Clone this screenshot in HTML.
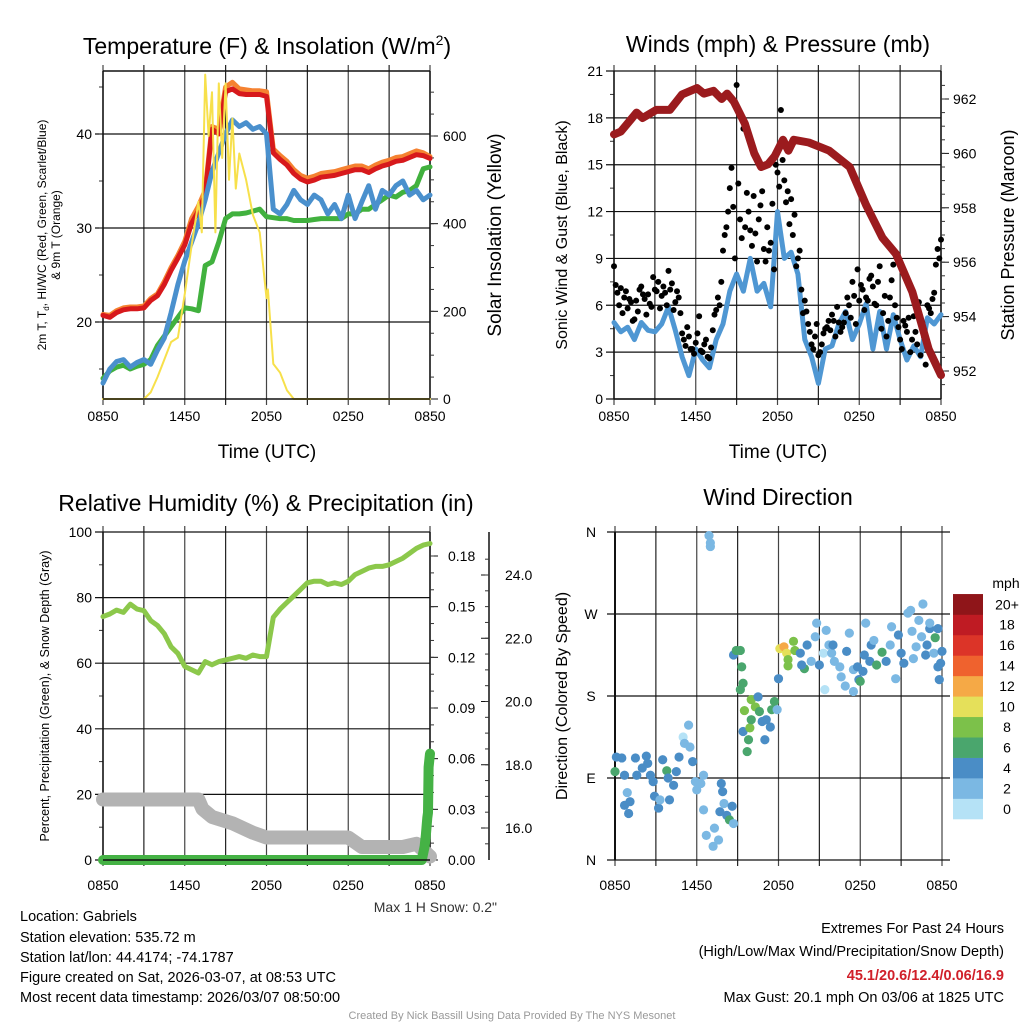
<!DOCTYPE html>
<html><head><meta charset="utf-8"><style>
html,body{margin:0;padding:0;background:#fff;}
svg{display:block;font-family:"Liberation Sans",sans-serif;}
</style></head><body>
<svg id="fig" width="1024" height="1024" viewBox="0 0 1024 1024" xmlns="http://www.w3.org/2000/svg">
<rect x="0" y="0" width="1024" height="1024" fill="#fff"/>
<text x="267" y="54" font-size="23" text-anchor="middle">Temperature (F) &amp; Insolation (W/m<tspan font-size="14" dy="-9">2</tspan><tspan dy="9">)</tspan></text>
<text x="778" y="52" font-size="23" text-anchor="middle">Winds (mph) &amp; Pressure (mb)</text>
<text x="266" y="511" font-size="23" text-anchor="middle">Relative Humidity (%) &amp; Precipitation (in)</text>
<text x="778" y="505" font-size="23" text-anchor="middle">Wind Direction</text>

<text x="267" y="458" font-size="19" text-anchor="middle">Time (UTC)</text>
<text x="778" y="458" font-size="19" text-anchor="middle">Time (UTC)</text>

<text transform="translate(46,235) rotate(-90)" font-size="12" text-anchor="middle">2m T, T<tspan font-size="8" dy="3">d</tspan><tspan dy="-3">, HI/WC (Red, Green, Scarlet/Blue)</tspan></text>
<text transform="translate(60,235) rotate(-90)" font-size="12" text-anchor="middle">&amp; 9m T (Orange)</text>
<text transform="translate(501,235) rotate(-90)" font-size="19" text-anchor="middle">Solar Insolation (Yellow)</text>
<text transform="translate(567,235) rotate(-90)" font-size="16" text-anchor="middle">Sonic Wind &amp; Gust (Blue, Black)</text>
<text transform="translate(1014,235) rotate(-90)" font-size="18" text-anchor="middle">Station Pressure (Maroon)</text>
<text transform="translate(49,696) rotate(-90)" font-size="12.5" text-anchor="middle">Percent, Precipitation (Green), &amp; Snow Depth (Gray)</text>
<text transform="translate(567,696) rotate(-90)" font-size="16" text-anchor="middle">Direction (Colored By Speed)</text>

<text x="497" y="912" font-size="14" fill="#333" text-anchor="end">Max 1 H Snow: 0.2"</text>

<g font-size="14.5">
<text x="20" y="921">Location: Gabriels</text>
<text x="20" y="942">Station elevation: 535.72 m</text>
<text x="20" y="962">Station lat/lon: 44.4174; -74.1787</text>
<text x="20" y="982">Figure created on Sat, 2026-03-07, at 08:53 UTC</text>
<text x="20" y="1002">Most recent data timestamp: 2026/03/07 08:50:00</text>
</g>
<g font-size="14.5" text-anchor="end">
<text x="1004" y="933">Extremes For Past 24 Hours</text>
<text x="1004" y="956">(High/Low/Max Wind/Precipitation/Snow Depth)</text>
<text x="1004" y="980" fill="#d0202a" font-weight="bold">45.1/20.6/12.4/0.06/16.9</text>
<text x="1004" y="1002">Max Gust: 20.1 mph On 03/06 at 1825 UTC</text>
</g>
<text x="512" y="1019" font-size="11" fill="#999" text-anchor="middle">Created By Nick Bassill Using Data Provided By The NYS Mesonet</text>
</svg>
<script>
// ---------- data ----------
const hourTicks = [0, 6, 12, 18, 24];
const hourTickLabels = ["0850", "1450", "2050", "0250", "0850"];
const halfHours = [0,0.5,1,1.5,2,2.5,3,3.5,4,4.5,5,5.5,6,6.5,7,7.5,8,8.5,9,9.5,10,10.5,11,11.5,12,12.5,13,13.5,14,14.5,15,15.5,16,16.5,17,17.5,18,18.5,19,19.5,20,20.5,21,21.5,22,22.5,23,23.5,24];
const tempRed = [20.7,20.5,21.0,21.3,21.4,21.4,21.5,22.3,22.8,24.0,25.5,26.8,28.2,30.5,31.8,33.5,40.5,40.0,44.5,44.8,44.3,44.2,44.2,44.2,44.0,38.0,37.3,36.7,35.8,35.2,34.9,35.1,35.4,35.5,35.6,35.8,36.0,36.2,36.2,35.9,36.3,36.6,36.8,37.1,37.2,37.5,37.8,37.7,37.4];
const tempOrange = [20.8,20.7,21.2,21.5,21.6,21.6,21.7,22.5,23.0,24.3,25.8,27.1,28.6,31.0,32.3,34.0,40.8,40.5,45.0,45.5,44.8,44.7,44.6,44.6,44.5,38.4,37.7,37.1,36.2,35.6,35.3,35.5,35.8,35.9,36.0,36.2,36.4,36.6,36.6,36.3,36.7,37.0,37.2,37.5,37.6,37.9,38.2,38.0,37.6];
const tempBlue = [13.5,15.0,15.8,16.0,15.2,15.7,16.0,15.5,17.0,18.3,21.0,24.0,26.5,28.5,30.5,33.0,36.0,38.0,40.0,41.5,40.8,41.2,40.5,40.8,40.0,32.0,31.5,32.5,34.0,33.0,32.5,33.5,33.0,31.5,32.5,31.0,33.5,31.0,32.8,34.5,32.0,34.0,33.5,34.5,35.0,33.5,34.0,33.0,33.5];
const dewGreen = [14.0,14.8,15.2,15.4,15.0,15.3,15.5,16.0,17.5,18.5,19.5,20.5,21.5,21.4,21.2,26.0,26.4,28.5,31.0,31.5,31.5,31.6,31.8,32.0,31.2,31.1,31.0,31.0,30.8,30.8,30.8,30.9,31.0,31.0,31.0,31.0,31.5,31.5,32.0,32.0,32.5,33.0,33.5,33.3,33.8,34.0,34.5,36.3,36.5];
const solarHours = [0,3,3.5,4,4.5,5,5.5,6,6.5,7,7.25,7.5,7.75,8,8.25,8.5,8.75,9,9.25,9.5,9.75,10,10.5,11,11.5,12,12.1,12.5,13,13.5,14,24];
const solarVals = [0,0,15,50,90,130,140,240,350,450,380,740,600,700,380,720,550,720,500,640,480,560,500,420,380,230,250,80,60,20,0,0];
const windBlue = [4.9,4.3,4.6,3.8,4.9,4.4,4.3,4.8,5.9,4.4,2.7,1.5,3.2,2.5,2.0,3.8,4.8,6.9,8.0,6.9,9.0,6.9,7.4,5.9,12.0,9.0,9.4,8.0,3.8,2.7,1.0,3.2,3.4,4.8,5.6,3.8,4.8,6.1,3.2,5.6,3.2,5.4,3.8,2.5,3.4,2.7,5.2,4.8,5.4];
const gustA = [8.5,6.8,7.1,6.5,5.8,6.2,5.1,5.6,7.2,6.4,6.7,5.9,7.0,7.5,6.6,6.8,8.2,7.4,6.2,6.5,4.2,3.4,4.0,3.2,3.6,5.3,3.0,3.8,2.6,4.4,5.7,6.0,9.5,11.0,13.5,12.3,20.1,11.5,17.3,13.2,10.8,13.0,8.8,12.4,9.6,11.0,10.0,8.3,14.5,18.5,14.0,13.3,12.8,11.8,9.0,7.0,6.3,4.8,3.5,4.0,2.8,3.5,4.5,5.0,5.4,4.0,4.9,4.6,5.5,6.0,7.5,4.8,6.3,7.0,6.5,7.7,7.2,6.0,8.5,5.5,4.0,6.5,8.6,5.2,3.8,5.0,4.3,3.0,5.3,3.5,2.8,4.0,6.0,5.5,6.8,9.6,10.2];
const gustB = [7.3,6.0,5.5,6.9,6.4,5.0,6.3,7.0,6.7,5.4,6.1,7.8,6.9,5.8,7.2,6.0,7.0,5.7,6.9,5.5,3.8,4.6,3.2,2.9,4.2,3.1,3.5,2.7,3.3,5.4,6.5,7.5,10.5,12.0,14.8,9.0,13.8,10.3,11.0,12.0,9.8,10.6,11.5,13.3,8.8,9.5,12.5,15.0,13.6,15.3,12.6,11.2,10.5,8.5,9.5,5.5,5.6,4.3,3.2,4.8,3.0,4.2,4.6,4.4,5.0,5.9,4.3,4.9,6.5,5.2,6.6,8.3,7.3,5.7,6.3,7.9,6.1,7.5,4.5,6.6,5.0,7.6,6.0,4.6,3.2,4.7,5.2,3.8,4.3,6.2,4.9,2.2,5.8,6.4,8.6,9.0];
const presHours = [0,0.5,1.66,2.1,3.1,4.1,5.0,6.1,6.6,7.3,7.9,8.3,8.8,9.6,10.3,10.8,11.3,11.8,12.4,12.8,13.2,14.3,15.8,17.3,18.5,19.7,20.7,21.9,23.1,24];
const presVals = [960.7,960.8,961.5,961.3,961.6,961.6,962.17,962.4,962.2,962.3,962.0,962.2,961.9,961.1,960.0,959.5,959.6,959.9,960.5,960.1,960.5,960.4,960.1,959.5,958.1,956.9,956.3,954.9,952.8,951.85];
const rhVals = [74.2,75.0,76.2,75.5,78.0,76.5,76.0,73.0,71.5,69.0,65.0,63.0,59.0,58.0,57.0,60.5,59.5,60.5,61.0,61.5,62.0,61.5,62.5,62.0,62.0,74.0,76.5,78.5,80.5,82.5,84.5,85.0,85.0,84.0,84.5,84.0,85.0,87.0,88.0,89.0,89.5,89.5,90.0,91.0,92.0,93.5,95.0,96.0,96.5];
const snowHours = [0,7,7.3,8,9.5,11,12,18,19,22,23,24];
const snowVals = [16.9,16.9,16.6,16.35,16.15,15.85,15.7,15.7,15.4,15.4,15.5,15.1];
const precipHours = [0,23.4,23.5,23.6,23.7,23.8,23.85,23.9,24];
const precipVals = [0,0,0.004,0.008,0.015,0.025,0.028,0.055,0.063];
const dirHours = [0.0,0.1,0.5,0.7,0.9,0.7,1.1,1.0,1.5,1.6,2.0,2.3,2.4,2.6,2.8,2.9,3.2,3.3,3.5,3.8,3.9,4.3,4.0,4.5,4.7,5.0,5.1,5.4,5.5,5.7,5.9,6.0,6.3,6.5,6.5,6.7,6.9,7.0,7.0,7.2,7.3,7.6,7.8,7.9,8.0,7.7,8.2,8.4,8.6,8.7,8.7,8.9,9.2,9.3,9.4,9.2,9.4,9.5,9.8,9.7,9.9,10.0,10.0,10.3,10.5,10.6,10.8,11.0,11.1,11.4,11.5,11.7,11.9,12.0,12.1,12.4,12.6,12.7,12.7,13.1,13.2,13.6,13.9,13.7,14.1,14.4,14.7,14.8,15.0,15.3,15.4,15.5,15.7,15.9,16.0,16.1,16.5,16.6,16.9,17.0,17.2,17.5,17.5,17.8,17.9,18.0,18.2,18.3,18.4,18.7,18.8,19.0,19.2,19.6,19.9,20.2,20.3,20.6,20.8,21.0,21.2,21.5,21.7,21.8,21.9,22.1,22.3,22.5,22.6,22.8,22.9,23.1,23.1,23.4,23.5,23.7,23.7,23.8,24.0,23.9];
const dirDeg = [97,113,112,93,74,60,64,51,112,93,101,114,106,93,86,70,57,66,110,98,90,82,66,97,113,135,128,148,124,108,86,77,84,93,55,27,356,348,344,15,35,22,84,75,62,53,49,44,59,40,225,230,230,212,194,187,141,164,132,119,145,154,176,168,179,163,152,132,154,146,165,174,165,199,232,234,227,220,213,240,230,227,210,214,236,218,245,260,214,227,187,252,236,227,236,218,212,201,191,229,249,209,185,212,198,196,207,225,260,218,236,241,214,228,218,236,256,199,247,227,216,271,274,251,221,234,263,245,281,225,236,254,260,227,244,254,212,198,229,216];
const dirSpeed = [6,4,4,4,2,4,4,4,4,4,4,4,4,4,4,4,4,2,4,6,4,4,4,4,4,1,2,2,2,4,2,2,2,2,2,2,2,2,2,2,2,2,4,4,2,4,4,6,4,2,4,6,7,6,6,6,4,8,6,6,8,6,8,8,4,6,4,4,4,4,6,6,2,4,11,13,10,8,8,8,8,4,6,4,4,2,2,2,4,1,1,2,2,2,4,2,2,2,2,4,2,2,2,4,4,6,4,4,2,4,4,2,6,6,4,2,2,2,4,4,4,2,2,2,2,2,2,2,2,4,4,4,2,2,6,4,4,4,4,4];
const speedBandLabels = ["0","2","4","6","8","10","12","14","16","18","20+"];
const speedBandColors = ["#b5e2f6","#7bb8e3","#4a8dc6","#4aa66d","#7cc14a","#e5e05a","#f5a946","#ef622e","#dc3428","#bf1b23","#8f1519"];
const tempTicks = [20,30,40];
const solarTicks = [0,200,400,600];
const windTicks = [0,3,6,9,12,15,18,21];
const presTicks = [952,954,956,958,960,962];
const rhTicks = [0,20,40,60,80,100];
const precipTicks = [0,0.03,0.06,0.09,0.12,0.15,0.18];
const precipTickLabels = ["0.00","0.03","0.06","0.09","0.12","0.15","0.18"];
const snowTicks = [16,18,20,22,24];
const dirTicks = [0,90,180,270,360];
const dirTickLabels = ["N","E","S","W","N"];

// ---------- helpers ----------
const NS = "http://www.w3.org/2000/svg";
const svg = document.getElementById("fig");
function mk(tag, attrs, parent) {
  const e = document.createElementNS(NS, tag);
  for (const k in attrs) e.setAttribute(k, attrs[k]);
  (parent || svg).appendChild(e);
  return e;
}
function lin(d0, d1, r0, r1) { return v => r0 + (v - d0) / (d1 - d0) * (r1 - r0); }
function pathFrom(xs, ys, fx, fy) {
  return xs.map((h, i) => (i ? "L" : "M") + fx(h).toFixed(1) + "," + fy(ys[i]).toFixed(1)).join("");
}
function line(x1, y1, x2, y2, stroke, w, name) {
  const l = mk("line", {x1, y1, x2, y2, stroke, "stroke-width": w});
  
  
  return l;
}
function txt(x, y, s, size, anchor, name) {
  const t = mk("text", {x, y, "font-size": size, "text-anchor": anchor});
  t.textContent = s;
  
  
  return t;
}
function series(xs, ys, fx, fy, color, w, name) {
  const p = mk("path", {d: pathFrom(xs, ys, fx, fy), fill: "none", stroke: color, "stroke-width": w, "stroke-linejoin": "round", "stroke-linecap": "round"});
  
  
  return p;
}
function timeGrid(x0, x1, y0, y1, tickY, prefix) {
  const fx = lin(0, 24, x0, x1);
  for (let h = 0; h <= 24; h += 3) {
    line(fx(h), y0 - 6, fx(h), y1 + 6, h % 6 === 0 ? "#444" : "#222", 1.2, prefix + "-vgrid");
  }
  hourTicks.forEach((h, i) => txt(fx(h), tickY, hourTickLabels[i], 14, "middle", prefix + "-x-tick-label"));
  return fx;
}

// ---------- Panel 1: temperature ----------
(function () {
  const x0 = 103, x1 = 430, y0 = 71, y1 = 399;
  const fy = lin(20, 40, 322, 134);
  const fs = lin(0, 600, 399, 136);
  const fx = timeGrid(x0, x1, y0, y1, 421, "temp");
  tempTicks.forEach(v => { line(x0 - 8, fy(v), x1, fy(v), "#111", 1.2, "temp-hgrid"); txt(x0 - 11, fy(v) + 5, v, 14, "end", "temp-y-tick-label"); });
  for (let v = 15; v <= 45; v += 5) line(x0 - 4, fy(v), x0, fy(v), "#333", 1, "temp-minor-tick");
  line(x0, y0, x1, y0, "#111", 1.5, "temp-top-border");
  line(x0, y0, x0, y1, "#111", 1.5, "temp-left-axis");
  line(x1, y0, x1, y1, "#111", 1.5, "temp-right-axis");
  solarTicks.forEach(v => { line(x1, fs(v), x1 + 8, fs(v), "#111", 1, "solar-tick"); txt(x1 + 13, fs(v) + 5, v, 14, "start", "solar-y-tick-label"); });
  for (let v = 50; v <= 700; v += 50) line(x1, fs(v), x1 + 4, fs(v), "#333", 1, "solar-minor-tick");
  series(halfHours, tempOrange, fx, fy, "#f58231", 5, "temp-9m-line");
  series(halfHours, tempRed, fx, fy, "#d7191c", 5, "temp-2m-line");
  series(halfHours, dewGreen, fx, fy, "#41b13e", 5, "dewpoint-line");
  series(halfHours, tempBlue, fx, fy, "#4a90cd", 5, "windchill-line");
  series(solarHours, solarVals, fx, fs, "#f7e04b", 2, "solar-line");
  line(x0, y1, x1, y1, "#111", 1.5, "temp-bottom-axis");
})();

// ---------- Panel 2: winds ----------
(function () {
  const x0 = 614, x1 = 941, y0 = 71, y1 = 399;
  const fy = lin(0, 21, 399, 71);
  const fp = lin(952, 962, 371, 99);
  const fx = timeGrid(x0, x1, y0, y1, 421, "wind");
  windTicks.forEach(v => { line(x0 - 8, fy(v), x1, fy(v), "#111", 1.2, "wind-hgrid"); txt(x0 - 11, fy(v) + 5, v, 14, "end", "wind-y-tick-label"); });
  for (let v = 1.5; v < 21; v += 3) line(x0 - 4, fy(v), x0, fy(v), "#333", 1, "wind-minor-tick");
  line(x0, y0, x0, y1, "#111", 1.5, "wind-left-axis");
  line(x1, y0, x1, y1, "#111", 1.5, "wind-right-axis");
  presTicks.forEach(v => { line(x1, fp(v), x1 + 8, fp(v), "#111", 1, "pressure-tick"); txt(x1 + 12, fp(v) + 5, v, 14, "start", "pressure-y-tick-label"); });
  for (let v = 951.5; v < 963; v += 0.5) line(x1, fp(v), x1 + 4, fp(v), "#333", 1, "pressure-minor-tick");
  series(halfHours, windBlue, fx, fy, "#4f97d3", 5, "sonic-wind-line");
  gustA.forEach((v, i) => { const c = mk("circle", {cx: fx(i * 0.25), cy: fy(v), r: 3, fill: "#000"});
    
     });
  gustB.forEach((v, i) => { const c = mk("circle", {cx: fx(0.125 + i * 0.25), cy: fy(v), r: 3, fill: "#000"});
    
     });
  series(presHours, presVals, fx, fp, "#9b1b1e", 8, "pressure-line");
  line(x0, y1, x1, y1, "#111", 1.5, "wind-bottom-axis");
})();

// ---------- Panel 3: RH / precip / snow ----------
(function () {
  const x0 = 103, x1 = 430, y0 = 532, y1 = 860;
  const fy = lin(0, 100, 860, 532);
  const fpr = lin(0, 0.18, 860, 556);
  const fsn = lin(16, 24, 828, 575);
  const fx = timeGrid(x0, x1, y0, y1, 890, "rh");
  rhTicks.forEach(v => { line(x0 - 8, fy(v), x1, fy(v), "#111", 1.2, "rh-hgrid"); txt(x0 - 11, fy(v) + 5, v, 14, "end", "rh-y-tick-label"); });
  for (let v = 10; v < 100; v += 20) line(x0 - 4, fy(v), x0, fy(v), "#333", 1, "rh-minor-tick");
  line(x0, y0, x0, y1, "#111", 1.5, "rh-left-axis");
  line(x1, y0, x1, y1, "#111", 1.5, "precip-axis");
  precipTicks.forEach((v, i) => { line(x1, fpr(v), x1 + 8, fpr(v), "#111", 1, "precip-tick"); txt(x1 + 18, fpr(v) + 5, precipTickLabels[i], 14, "start", "precip-y-tick-label"); });
  for (let v = 0.01; v < 0.19; v += 0.01) line(x1, fpr(v), x1 + 4, fpr(v), "#333", 1, "precip-minor-tick");
  line(489, y0, 489, y1, "#111", 1.5, "snow-axis");
  snowTicks.forEach(v => { line(489, fsn(v), 481, fsn(v), "#111", 1, "snow-tick"); txt(505, fsn(v) + 5, v.toFixed(1), 14, "start", "snow-y-tick-label"); });
  for (let v = 15.5; v < 25; v += 0.5) line(489, fsn(v), 485, fsn(v), "#333", 1, "snow-minor-tick");
  series(snowHours, snowVals, fx, fsn, "#b3b3b3", 14, "snow-depth-line");
  series(precipHours, precipVals, fx, fpr, "#45b245", 10, "precip-line");
  series(halfHours, rhVals, fx, fy, "#8cc84b", 5, "rh-line");
  line(x0, y1, x1, y1, "#111", 1.5, "rh-bottom-axis");
})();

// ---------- Panel 4: wind direction ----------
(function () {
  const x0 = 615, x1 = 942, y0 = 532, y1 = 860;
  const fy = lin(0, 360, 860, 532);
  const fx = timeGrid(x0, x1, y0, y1, 890, "dir");
  dirTicks.forEach((v, i) => { line(x0 - 8, fy(v), x1 + 8, fy(v), "#111", 1.2, "dir-hgrid"); txt(591, fy(v) + 5, dirTickLabels[i], 14, "middle", "dir-y-tick-label"); });
  line(x0, y0, x0, y1, "#111", 2, "dir-left-axis");
  dirHours.forEach((h, i) => {
    const band = Math.min(10, Math.floor(dirSpeed[i] / 2));
    const c = mk("circle", {cx: fx(h), cy: fy(dirDeg[i]), r: 4.6, fill: speedBandColors[band]});
    
    
  });
  // colorbar
  const bh = 20.45, bx = 953, by = 819;
  txt(1006, 588, "mph", 14, "middle", "colorbar-title");
  speedBandLabels.forEach((lab, i) => {
    const r = mk("rect", {x: bx, y: by - (i + 1) * bh, width: 30, height: bh + 0.3, fill: speedBandColors[i]});
    
    
    txt(1007, by - (i + 0.5) * bh + 5, lab, 14, "middle", "colorbar-label");
  });
})();
</script>
</body></html>
